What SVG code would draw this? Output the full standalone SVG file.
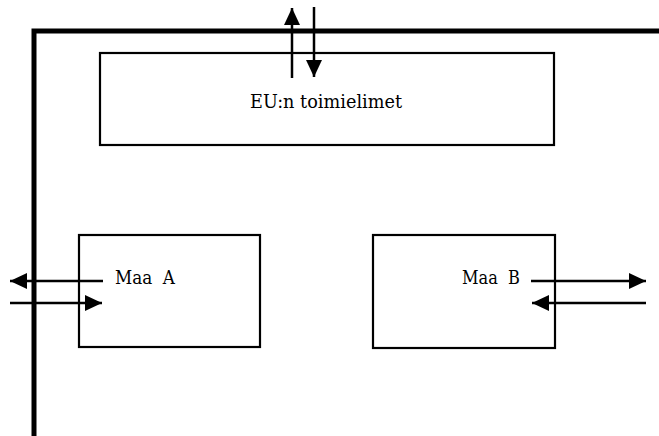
<svg xmlns="http://www.w3.org/2000/svg" width="659" height="436" viewBox="0 0 659 436">
<style>
.box{fill:#fff;stroke:#000;stroke-width:2.2}
.frame{fill:none;stroke:#000;stroke-width:5}
.conn{stroke:#000;stroke-width:2.5;fill:none}
.lbl{font-family:"DejaVu Serif","Liberation Serif",serif;font-size:19px;fill:#000}
</style>
<defs>
<marker id="ah" markerUnits="userSpaceOnUse" markerWidth="18" markerHeight="18" viewBox="0 0 18 18" refX="17" refY="9" orient="auto">
<path d="M0,1 L17,9 L0,17 Z" fill="#000"/>
</marker>
</defs>
<path class="frame" d="M34,436 V31 H659"/>
<g id="eu">
<rect class="box" x="100" y="53" width="454" height="92"/>
<text class="lbl" x="250" y="108" textLength="152" lengthAdjust="spacingAndGlyphs">EU:n toimielimet</text>
</g>
<g id="maa-a">
<rect class="box" x="79" y="235" width="181" height="112"/>
<text class="lbl" x="115" y="284" textLength="60" lengthAdjust="spacingAndGlyphs" xml:space="preserve">Maa  A</text>
</g>
<g id="maa-b">
<rect class="box" x="373" y="235" width="182" height="113"/>
<text class="lbl" x="462" y="284" textLength="58" lengthAdjust="spacingAndGlyphs" xml:space="preserve">Maa  B</text>
</g>
<g id="connectors">
<line class="conn" x1="292" y1="78" x2="292" y2="8" marker-end="url(#ah)"/>
<line class="conn" x1="314" y1="7" x2="314" y2="77" marker-end="url(#ah)"/>
<line class="conn" x1="103" y1="281" x2="10" y2="281" marker-end="url(#ah)"/>
<line class="conn" x1="10" y1="303" x2="102" y2="303" marker-end="url(#ah)"/>
<line class="conn" x1="531" y1="281" x2="646" y2="281" marker-end="url(#ah)"/>
<line class="conn" x1="646" y1="303" x2="532" y2="303" marker-end="url(#ah)"/>
</g>
</svg>
